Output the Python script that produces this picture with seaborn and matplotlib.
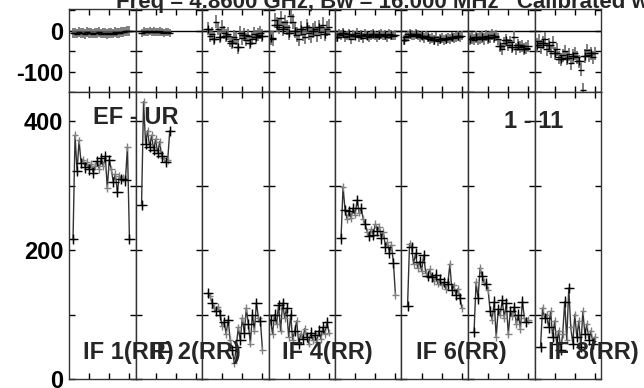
import numpy as np
import pandas as pd
import matplotlib
matplotlib.use("Agg")
import matplotlib.pyplot as plt
import seaborn as sns

# --- data (channel start, amplitude, phase per IF) ---
AMP_START = [2, 3, 3, 1, 3, 3, 3, 3]
amp_if1 = [217, 378, 322, 370, 335, 340, 328, 336, 325, 333, 320, 330, 338, 326, 342,
           330, 345, 296, 340, 325, 305, 318, 290, 315, 310, 312, 308, 360, 217]
amp_if2 = [270, 430, 365, 385, 360, 378, 355, 372, 350, 368, 345, 342, 336, 340, 385]
amp_if3 = [133, 128, 118, 110, 105, 112, 100, 82, 88, 70, 92, 60, 45, 25, 50, 80, 60,
           95, 72, 110, 85, 55, 100, 75, 118, 95, 90, 45]
amp_if4 = [92, 70, 100, 85, 115, 75, 118, 95, 110, 65, 100, 60, 75, 90, 55, 70, 62, 78,
           65, 55, 72, 60, 68, 58, 75, 62, 80, 70, 88, 72]
amp_if5 = [218, 298, 262, 248, 260, 250, 265, 255, 278, 258, 265, 248, 240, 228, 222,
           232, 224, 240, 230, 236, 218, 228, 205, 212, 196, 208, 180, 130]
amp_if6 = [113, 210, 205, 178, 195, 172, 182, 168, 192, 165, 160, 170, 158, 152, 162,
           148, 155, 145, 150, 140, 148, 178, 138, 145, 130, 140, 125, 110]
amp_if7 = [73, 150, 125, 172, 160, 150, 148, 138, 105, 92, 120, 65, 108, 100, 122, 95,
           118, 70, 105, 98, 112, 85, 100, 78, 120, 95, 88, 91]
amp_if8 = [50, 110, 95, 100, 80, 105, 65, 90, 55, 75, 45, 70, 120, 60, 141, 80, 55, 100,
           65, 90, 50, 105, 70, 85, 60, 75, 55, 65]

PH_START = [2, 3, 3, 1, 1, 1, 1, 1]
ph_if1 = [-6, -5, -7, -4, -6, -5, -8, -4, -6, -5, -7, -5, -6, -4, -7, -5, -6, -8, -5,
          -6, -7, -4, -6, -5, -3, -4, -2, -1, 0]
ph_if2 = [-5, -2, -3, -4, -1, -3, -2, -4, -3, -2, -3, -5, -4, -3, -5]
ph_if3 = [5, -12, -8, -20, 22, 5, -15, 10, -5, -12, -8, -25, -30, -15, -20, -40, -5,
          -18, -10, -22, -12, -30, -20, -8, -15, -10, -5, -12]
ph_if4 = [-18, -20, 25, 15, 10, 30, 5, 20, 8, -5, 35, 22, 0, -10, -20, 5, -8, -15, 10,
          -5, -12, 0, 5, -10, 8, -3, 15, -8, 5, 10]
ph_if5 = [-15, -8, -10, -5, -15, -12, -8, -20, -10, -12, -5, -15, -10, -18, -8, -12,
          -15, -10, -8, -12, -15, -10, -8, -12, -10, -15, -8, -10, -12, -10]
ph_if6 = [-22, -15, -12, -8, -10, -12, -8, -10, -15, -12, -18, -12, -15, -20, -18, -22,
          -15, -25, -20, -18, -22, -20, -18, -20, -15, -18, -16, -14, -15, -12]
ph_if7 = [-20, -18, -22, -15, -20, -18, -15, -20, -12, -18, -15, -10, -15, -12, -20,
          -38, -45, -30, -22, -35, -28, -40, -15, -45, -35, -40, -38, -45, -42, -38]
ph_if8 = [-35, -25, -40, -30, -20, -45, -35, -50, -28, -55, -45, -65, -70, -60, -50,
          -68, -58, -80, -62, -55, -65, -75, -95, -145, -62, -48, -60, -55, -65, -55]

AMPS = [amp_if1, amp_if2, amp_if3, amp_if4, amp_if5, amp_if6, amp_if7, amp_if8]
PHASES = [ph_if1, ph_if2, ph_if3, ph_if4, ph_if5, ph_if6, ph_if7, ph_if8]
PH_ERR = [12, 10, 16, 18, 12, 12, 14, 16]
IF_LABELS = {1: "IF 1(RR)", 2: "IF 2(RR)", 4: "IF 4(RR)", 6: "IF 6(RR)", 8: "IF 8(RR)"}

TITLE = "Freq = 4.8600 GHz, Bw = 16.000 MHz   Calibrated with CL 1"
BASELINE = "EF - UR"
TIMERANGE = "1 - 11"

# --- style ---
sns.set_theme(style="ticks")
plt.rcParams["font.family"] = ["Liberation Sans", "DejaVu Sans"]
plt.rcParams["font.weight"] = "bold"

W, H = 644, 388
fig = plt.figure(figsize=(W / 100, H / 100), dpi=100)
gs = fig.add_gridspec(2, 8, height_ratios=[83, 287], wspace=0, hspace=0,
                      left=69 / W, right=601 / W, top=1 - 9 / H, bottom=1 - 379 / H)

FS = 17
for i in range(8):
    ax_ph = fig.add_subplot(gs[0, i])
    ax_am = fig.add_subplot(gs[1, i])

    # phase panel
    ph = PHASES[i]
    ch = np.arange(PH_START[i], PH_START[i] + len(ph))
    ax_ph.axhline(0, color="black", lw=1.0, zorder=1)
    ax_ph.errorbar(ch, ph, yerr=PH_ERR[i], fmt="none", ecolor="#6a6a6a", elinewidth=1.2)
    ax_ph.errorbar(ch, ph, xerr=1.6, fmt="none", ecolor="black", elinewidth=1.0)
    if i >= 2:
        ax_ph.errorbar(ch[::3], ph[::3], xerr=2.6, yerr=10, fmt="none", ecolor="black",
                       elinewidth=1.0)

    # amplitude panel
    am = AMPS[i]
    ch = np.arange(AMP_START[i], AMP_START[i] + len(am))
    df = pd.DataFrame({"ch": ch, "amp": am})
    sns.lineplot(data=df, x="ch", y="amp", ax=ax_am, color="#333333", lw=1.0,
                 estimator=None, sort=False)
    ax_am.errorbar(ch, am, xerr=1.6, yerr=6, fmt="none", ecolor="#808080", elinewidth=1.0)
    ax_am.errorbar(ch[::2], am[::2], xerr=2.6, yerr=8, fmt="none", ecolor="black",
                   elinewidth=1.0)

    for ax in (ax_ph, ax_am):
        ax.set_xlim(0, 33)
        ax.set_xticks([10, 20, 30])
        ax.set_xticklabels([])
        ax.set_xlabel("")
        ax.set_ylabel("")
        ax.tick_params(direction="in", length=4.5, width=1, top=True, right=True,
                       bottom=True, left=True, colors="black", labelsize=FS)
        for sp in ax.spines.values():
            sp.set_color("#333333")
            sp.set_linewidth(1.0)

    ax_ph.set_ylim(-147, 53)
    ax_ph.set_yticks([-150, -100, -50, 0, 50])
    ax_am.set_ylim(0, 445)
    ax_am.set_yticks([0, 100, 200, 300, 400])
    if i == 0:
        ax_ph.set_yticklabels(["", "-100", "", "0", ""], fontweight="bold")
        ax_am.set_yticklabels(["0", "", "200", "", "400"], fontweight="bold")
        ax_ph.tick_params(axis="y", pad=4)
        ax_am.tick_params(axis="y", pad=4)
    else:
        ax_ph.set_yticklabels([])
        ax_am.set_yticklabels([])

# --- labels ---
fig.text(116 / W, 1 - 8 / H, TITLE, fontsize=16, fontweight="bold", ha="left",
         va="baseline")
fig.text(93 / W, 1 - 117 / H, BASELINE, fontsize=FS, fontweight="bold", ha="left",
         va="center")
fig.text(504 / W, 1 - 121 / H, TIMERANGE, fontsize=FS, fontweight="bold", ha="left",
         va="center")
for n, lab in IF_LABELS.items():
    fig.text((83 + (n - 1) * 66.5) / W, 1 - 352 / H, lab, fontsize=FS,
             fontweight="bold", ha="left", va="center")

fig.savefig("out.png", dpi=100)
